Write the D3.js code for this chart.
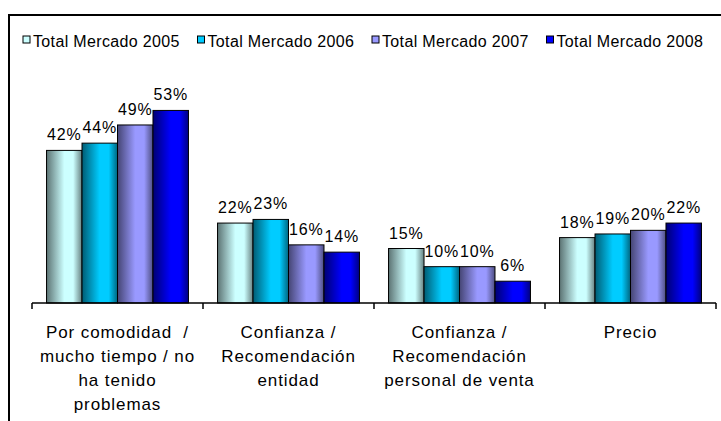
<!DOCTYPE html>
<html>
<head>
<meta charset="utf-8">
<script src="https://cdn.jsdelivr.net/npm/d3@7"></script>
<style>
  html, body { margin: 0; padding: 0; background: #fff; }
  svg { display: block; }
</style>
</head>
<body>
<svg id="chart" width="721" height="421" font-family="'Liberation Sans', Arimo, Arial, Helvetica, sans-serif"></svg>
<script>
const categories = [
  "Por comodidad  /\nmucho tiempo / no\nha tenido\nproblemas",
  "Confianza /\nRecomendación\nentidad",
  "Confianza /\nRecomendación\npersonal de venta",
  "Precio"
];
const seriesNames = ["Total Mercado 2005", "Total Mercado 2006", "Total Mercado 2007", "Total Mercado 2008"];
const seriesColors = ["#CCFFFF", "#00CCFF", "#9999FF", "#0000FF"];
const values2005 = [42, 22, 15, 18];
const values2006 = [44, 23, 10, 19];
const values2007 = [49, 16, 10, 20];
const values2008 = [53, 14, 6, 22];
const seriesValues = [values2005, values2006, values2007, values2008];

const svg = d3.select("#chart");
const defs = svg.append("defs");

// gradients
seriesColors.forEach((c, i) => {
  const base = d3.rgb(c);
  const dark = (k) => d3.rgb(base.r * k, base.g * k, base.b * k).formatHex();
  const g = defs.append("linearGradient").attr("id", "grad" + i)
    .attr("x1", "0%").attr("x2", "100%").attr("y1", "0%").attr("y2", "0%");
  g.append("stop").attr("offset", "0%").attr("stop-color", dark(0.45));
  g.append("stop").attr("offset", "50%").attr("stop-color", base.formatHex());
  g.append("stop").attr("offset", "75%").attr("stop-color", base.formatHex());
  g.append("stop").attr("offset", "100%").attr("stop-color", dark(0.5));
});

// frame
svg.append("rect")
  .attr("x", 9).attr("y", 15).attr("width", 800).attr("height", 500)
  .attr("fill", "none").attr("stroke", "#000").attr("stroke-width", 2);

const x0 = d3.scaleBand().domain(categories).range([32, 716])
  .paddingInner(0.17).paddingOuter(0.085);
const x1 = d3.scaleBand().domain(seriesNames).range([0, x0.bandwidth()]);
const y = d3.scaleLinear().domain([0, 60]).range([303, 85]);

// bars
const groups = svg.append("g").selectAll("g")
  .data(categories).join("g")
  .attr("transform", c => `translate(${x0(c)},0)`);

groups.each(function(c, ci) {
  const g = d3.select(this);
  seriesNames.forEach((s, si) => {
    const v = seriesValues[si][ci];
    g.append("rect")
      .attr("x", x1(s)).attr("y", y(v))
      .attr("width", x1.bandwidth()).attr("height", y(0) - y(v))
      .attr("fill", `url(#grad${si})`)
      .attr("stroke", "#000").attr("stroke-width", 1);
    g.append("text")
      .attr("x", x1(s) + x1.bandwidth() / 2)
      .attr("y", y(v) - 10)
      .attr("text-anchor", "middle")
      .attr("font-size", 16).attr("letter-spacing", 0.8)
      .attr("fill", "#000")
      .text(v + "%");
  });
});

// axis
const axisG = svg.append("g");
const [r0, r1] = x0.range();
axisG.append("line").attr("x1", r0).attr("x2", r1).attr("y1", y(0)).attr("y2", y(0))
  .attr("stroke", "#000").attr("stroke-width", 1.5);
d3.range(categories.length + 1).forEach(i => {
  const xx = r0 + i * x0.step();
  axisG.append("line").attr("x1", xx).attr("x2", xx).attr("y1", y(0)).attr("y2", y(0) + 6)
    .attr("stroke", "#000").attr("stroke-width", 1.5);
});

// category labels
categories.forEach(c => {
  const lines = c.split("\n");
  const t = svg.append("text")
    .attr("text-anchor", "middle")
    .attr("xml:space", "preserve")
    .attr("font-size", 17).attr("letter-spacing", 0.9)
    .attr("fill", "#000")
    .style("white-space", "pre");
  lines.forEach((ln, li) => {
    t.append("tspan")
      .attr("x", x0(c) + x0.bandwidth() / 2)
      .attr("y", 338 + li * 24)
      .text(ln);
  });
});

// legend
const legend = svg.append("g");
seriesNames.forEach((s, i) => {
  const lx = 23 + i * 174.5;
  legend.append("rect").attr("x", lx).attr("y", 36).attr("width", 7).attr("height", 7)
    .attr("fill", seriesColors[i]).attr("stroke", "#000").attr("stroke-width", 1);
  legend.append("text").attr("x", lx + 10).attr("y", 47)
    .attr("font-size", 16).attr("letter-spacing", 0.35)
    .attr("fill", "#000")
    .text(s);
});
</script>
</body>
</html>
